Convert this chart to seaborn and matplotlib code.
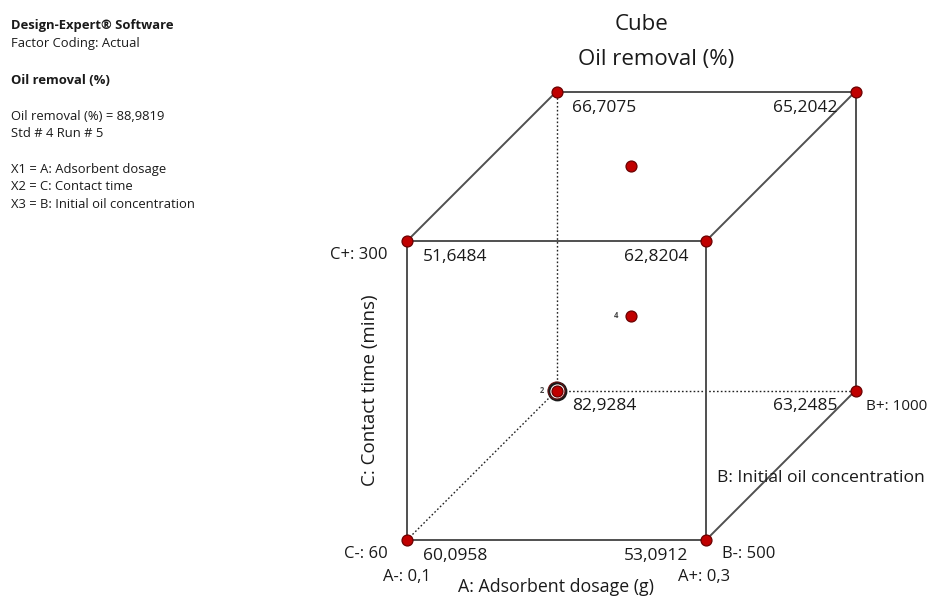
import matplotlib
matplotlib.use("Agg")
import matplotlib.pyplot as plt
import seaborn as sns
import pandas as pd
import itertools

# Factor ranges
a_levels = [0.1, 0.3]        # A: Adsorbent dosage (g)
b_levels = [500, 1000]       # B: Initial oil concentration
c_levels = [60, 300]         # C: Contact time (mins)

# Predicted oil removal (%) at the eight cube corners
corner_a = [0.1, 0.3, 0.1, 0.3, 0.1, 0.3, 0.1, 0.3]
corner_b = [500, 500, 500, 500, 1000, 1000, 1000, 1000]
corner_c = [60, 60, 300, 300, 60, 60, 300, 300]
corner_removal = [60.0958, 53.0912, 51.6484, 62.8204, 82.9284, 63.2485, 66.7075, 65.2042]

# Design points inside / on the faces of the cube
extra_a = [0.2, 0.2]
extra_b = [750, 750]
extra_c = [300, 180]

# Replicated runs: (A, B, C) and count
rep_a = [0.1, 0.2]
rep_b = [1000, 750]
rep_c = [60, 180]
rep_n = [2, 4]

# Selected run
sel_a, sel_b, sel_c = 0.1, 1000, 60

sns.set_theme(style="white")
FONT = ["Open Sans", "DejaVu Sans"]
plt.rcParams["font.family"] = FONT
TXT = "#1a1a1a"

DEPTH = 0.5  # oblique depth factor for the B axis


def coded(v, lv):
    return (v - lv[0]) / (lv[1] - lv[0])


def proj(a, b, c):
    ac, bc, cc = coded(a, a_levels), coded(b, b_levels), coded(c, c_levels)
    return ac + DEPTH * bc, cc + DEPTH * bc


W, H = 929, 598
fig = plt.figure(figsize=(W / 100, H / 100), dpi=100)
ax = fig.add_axes([0, 0, 1, 1])
UNIT = 299.0          # pixels per coded unit
X0, Y0 = 407.0, 58.0  # pixel position of the (A-, B-, C-) corner (y from bottom)
ax.set_xlim(-X0 / UNIT, (W - X0) / UNIT)
ax.set_ylim(-Y0 / UNIT, (H - Y0) / UNIT)
ax.axis("off")

# Cube edges
hidden = (a_levels[0], b_levels[1], c_levels[0])
corners = list(itertools.product(a_levels, b_levels, c_levels))
for p, q in itertools.combinations(corners, 2):
    diff = sum(1 for i in range(3) if p[i] != q[i])
    if diff != 1:
        continue
    (x1, y1), (x2, y2) = proj(*p), proj(*q)
    if p == hidden or q == hidden:
        ax.plot([x1, x2], [y1, y2], color="#222222", lw=1.0,
                linestyle=(0, (1.2, 1.6)), zorder=1)
    else:
        ax.plot([x1, x2], [y1, y2], color="#505050", lw=1.4, zorder=1,
                solid_capstyle="butt")

# Design points
pts = pd.DataFrame({
    "A": corner_a + extra_a,
    "B": corner_b + extra_b,
    "C": corner_c + extra_c,
})
pts["u"], pts["v"] = zip(*[proj(a, b, c) for a, b, c in zip(pts.A, pts.B, pts.C)])

# selected run ring
su, sv = proj(sel_a, sel_b, sel_c)
ax.scatter([su], [sv], s=150, facecolor="white", edgecolor="#1a1a1a",
           linewidth=2.0, zorder=2)
ax.scatter([su], [sv], s=150, facecolor="none", edgecolor="#7a1010",
           linewidth=0.6, zorder=2)

sns.scatterplot(data=pts, x="u", y="v", ax=ax, s=62, color="#c00000",
                edgecolor="#6a0000", linewidth=0.9, zorder=3, legend=False)

# replicate counts
for a, b, c, n in zip(rep_a, rep_b, rep_c, rep_n):
    u, v = proj(a, b, c)
    ax.annotate(str(n), (u, v), xytext=(-9, 0), textcoords="offset points",
                ha="right", va="center", fontsize=5.5, color="#444444",
                fontweight="bold")

# Corner values
PX = 0.72  # points per pixel
for a, b, c, val in zip(corner_a, corner_b, corner_c, corner_removal):
    u, v = proj(a, b, c)
    dx = 48 if a == a_levels[0] else -50
    ax.annotate(f"{val:.4f}".replace(".", ","), (u, v),
                xytext=(dx * PX, -16 * PX), textcoords="offset points",
                ha="center", va="center", fontsize=12.5, color=TXT)


def lvl(v):
    return f"{v:g}".replace(".", ",")


# Factor level labels
u, v = proj(a_levels[0], b_levels[0], c_levels[1])
ax.annotate(f"C+: {lvl(c_levels[1])}", (u, v), xytext=(-19 * PX, -14 * PX),
            textcoords="offset points", ha="right", va="center", fontsize=12, color=TXT)
u, v = proj(a_levels[0], b_levels[0], c_levels[0])
ax.annotate(f"C-: {lvl(c_levels[0])}", (u, v), xytext=(-19 * PX, -14 * PX),
            textcoords="offset points", ha="right", va="center", fontsize=12, color=TXT)
ax.annotate(f"A-: {lvl(a_levels[0])}", (u, v), xytext=(0, -37 * PX),
            textcoords="offset points", ha="center", va="center", fontsize=12, color=TXT)
u, v = proj(a_levels[1], b_levels[0], c_levels[0])
ax.annotate(f"A+: {lvl(a_levels[1])}", (u, v), xytext=(-2 * PX, -37 * PX),
            textcoords="offset points", ha="center", va="center", fontsize=12, color=TXT)
ax.annotate(f"B-: {lvl(b_levels[0])}", (u, v), xytext=(16 * PX, -14 * PX),
            textcoords="offset points", ha="left", va="center", fontsize=12, color=TXT)
u, v = proj(a_levels[1], b_levels[1], c_levels[0])
ax.annotate(f"B+: {lvl(b_levels[1])}", (u, v), xytext=(10 * PX, -16 * PX),
            textcoords="offset points", ha="left", va="center", fontsize=11, color=TXT)

# Axis titles
u0, v0 = proj(0.2, b_levels[0], c_levels[0])
ax.annotate("A: Adsorbent dosage (g)", (u0, v0), xytext=(0, -47 * PX),
            textcoords="offset points", ha="center", va="center", fontsize=12.8, color=TXT)
u0, v0 = proj(a_levels[1], 750, c_levels[0])
ax.annotate("B: Initial oil concentration", (u0, v0), xytext=(-64 * PX, -13 * PX),
            textcoords="offset points", ha="left", va="center", fontsize=12.6, color=TXT)
u0, v0 = proj(a_levels[0], b_levels[0], 180)
ax.annotate("C: Contact time (mins)", (u0, v0), xytext=(-37 * PX, 0),
            textcoords="offset points", ha="center", va="center", rotation=90,
            fontsize=13.5, color=TXT)

# Title
fig.text(641 / W, 1 - 25 / H, "Cube", ha="center", va="center", fontsize=16, color=TXT)
fig.text(656 / W, 1 - 60 / H, "Oil removal (%)", ha="center", va="center",
         fontsize=16, color=TXT)

# Info block
info = [
    ("Design-Expert® Software", 25.5, "bold"),
    ("Factor Coding: Actual", 43.5, "normal"),
    ("Oil removal (%)", 80.5, "bold"),
    ("Oil removal (%) = 88,9819", 116.5, "normal"),
    ("Std # 4 Run # 5", 133.5, "normal"),
    ("X1 = A: Adsorbent dosage", 170, "normal"),
    ("X2 = C: Contact time", 187, "normal"),
    ("X3 = B: Initial oil concentration", 205, "normal"),
]
for s, y, w in info:
    fig.text(11 / W, 1 - y / H, s, ha="left", va="center", fontsize=9.4,
             fontweight=w, color=TXT)

fig.savefig("out.png", dpi=100)
